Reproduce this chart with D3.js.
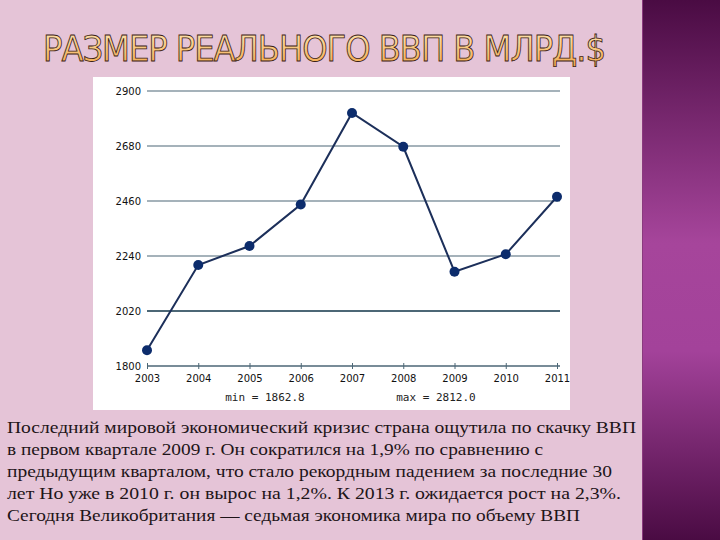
<!DOCTYPE html>
<html>
<head>
<meta charset="utf-8">
<script src="https://cdn.jsdelivr.net/npm/d3@7"></script>
<style>
  body { margin: 0; background: #e5c4d7; }
  svg { display: block; }
</style>
</head>
<body>
<svg id="slide" width="720" height="540"></svg>
<script>
// Data
const years = [2003, 2004, 2005, 2006, 2007, 2008, 2009, 2010, 2011];
const gdp = [1862.8, 2204, 2280, 2446, 2812.0, 2677, 2177, 2247, 2477];
const yTicks = [1800, 2020, 2240, 2460, 2680, 2900];
const titleText = "РАЗМЕР РЕАЛЬНОГО ВВП В МЛРД.$";
const bodyLines = [
    "Последний мировой экономический кризис страна ощутила по скачку ВВП",
    "в первом квартале 2009 г. Он сократился на 1,9% по сравнению с",
    "предыдущим кварталом, что стало рекордным падением за последние 30",
    "лет Но уже в 2010 г. он вырос на 1,2%. К 2013 г. ожидается рост на 2,3%.",
    "Сегодня Великобритания — седьмая экономика мира по объему ВВП"
];
const bodyWidths = [629, 536, 605, 614, 573];

const svg = d3.select("#slide");
const defs = svg.append("defs");

// Purple side panel gradient
const sideGrad = defs.append("linearGradient")
    .attr("id", "sideGrad")
    .attr("x1", 0).attr("y1", 0).attr("x2", 0).attr("y2", 1);
sideGrad.append("stop").attr("offset", "0%").attr("stop-color", "#4a0b43");
sideGrad.append("stop").attr("offset", "45%").attr("stop-color", "#a6459b");
sideGrad.append("stop").attr("offset", "65%").attr("stop-color", "#a3429a");
sideGrad.append("stop").attr("offset", "100%").attr("stop-color", "#4a0b43");

// Title fill gradient (pale top -> orange bottom)
const titleGrad = defs.append("linearGradient")
    .attr("id", "titleGrad")
    .attr("x1", 0).attr("y1", 0).attr("x2", 0).attr("y2", 1);
titleGrad.append("stop").attr("offset", "0%").attr("stop-color", "#ffe9b8");
titleGrad.append("stop").attr("offset", "100%").attr("stop-color", "#f2a445");

svg.append("rect")
    .attr("width", 720).attr("height", 540)
    .attr("fill", "#e5c4d7");

svg.append("rect")
    .attr("x", 642).attr("y", 0)
    .attr("width", 78).attr("height", 540)
    .attr("fill", "url(#sideGrad)");
svg.append("line")
    .attr("x1", 642.5).attr("x2", 642.5).attr("y1", 0).attr("y2", 540)
    .attr("stroke", "#8a3a7e").attr("stroke-width", 1);

// Title
svg.append("text")
    .attr("x", 43).attr("y", 61)
    .attr("textLength", 563)
    .attr("lengthAdjust", "spacing")
    .attr("font-family", "'Liberation Sans Narrow', 'DejaVu Sans Condensed', sans-serif")
    .attr("font-size", "36px")
    .attr("fill", "url(#titleGrad)")
    .attr("stroke", "#3b2216")
    .attr("stroke-width", 0.8)
    .text(titleText);

// Chart box
svg.append("rect")
    .attr("x", 93).attr("y", 77)
    .attr("width", 477).attr("height", 333)
    .attr("fill", "#ffffff");

const x = d3.scaleLinear().domain([2003, 2011]).range([147, 557]);
const y = d3.scaleLinear().domain([1800, 2900]).range([366, 91]);

const chart = svg.append("g");

// Gridlines
chart.append("g").selectAll("line")
    .data(yTicks)
    .enter()
    .append("line")
    .attr("x1", 147).attr("x2", 560)
    .attr("y1", d => y(d)).attr("y2", d => y(d))
    .attr("stroke", "#4c6776")
    .attr("stroke-width", d => d === 2020 ? 2 : 1.2);

// Y labels
chart.append("g").selectAll("text")
    .data(yTicks)
    .enter()
    .append("text")
    .attr("x", 141).attr("y", d => y(d) + 4)
    .attr("text-anchor", "end")
    .attr("font-family", "'DejaVu Sans', sans-serif")
    .attr("font-size", "10px")
    .attr("fill", "#111")
    .text(d => d);

// X axis
const xAxis = d3.axisBottom(x)
    .tickValues(years)
    .tickFormat(d3.format("d"))
    .tickSize(4)
    .tickSizeOuter(0);
const xg = chart.append("g")
    .attr("transform", "translate(0,366)")
    .call(xAxis);
xg.select(".domain").attr("stroke", "#4c6776").attr("stroke-width", 1.2)
    .attr("d", "M147,0H560");
xg.selectAll(".tick line").attr("stroke", "#4c6776").attr("y1", -3).attr("y2", 3);
xg.selectAll(".tick text")
    .attr("y", 9)
    .attr("font-family", "'DejaVu Sans', sans-serif")
    .attr("font-size", "10px")
    .attr("fill", "#111");

// Line + points
const line = d3.line()
    .x((d, i) => x(years[i]))
    .y(d => y(d));
chart.append("path")
    .datum(gdp)
    .attr("d", line)
    .attr("fill", "none")
    .attr("stroke", "#1c2f5a")
    .attr("stroke-width", 2);
chart.append("g").selectAll("circle")
    .data(gdp)
    .enter()
    .append("circle")
    .attr("cx", (d, i) => x(years[i]))
    .attr("cy", d => y(d))
    .attr("r", 5)
    .attr("fill", "#0c2c6c");

// min / max notes
const minV = d3.min(gdp), maxV = d3.max(gdp);
chart.append("text")
    .attr("x", 265).attr("y", 401)
    .attr("text-anchor", "middle")
    .attr("font-family", "'DejaVu Sans Mono', monospace")
    .attr("font-size", "11px")
    .attr("fill", "#222")
    .text("min = " + minV.toFixed(1));
chart.append("text")
    .attr("x", 436).attr("y", 401)
    .attr("text-anchor", "middle")
    .attr("font-family", "'DejaVu Sans Mono', monospace")
    .attr("font-size", "11px")
    .attr("fill", "#222")
    .text("max = " + maxV.toFixed(1));

// Body text
svg.append("g").selectAll("text")
    .data(bodyLines)
    .enter()
    .append("text")
    .attr("x", 7)
    .attr("y", (d, i) => 433 + i * 22)
    .attr("textLength", (d, i) => bodyWidths[i])
    .attr("lengthAdjust", "spacingAndGlyphs")
    .attr("font-family", "'Liberation Serif', 'DejaVu Serif', serif")
    .attr("font-size", "17px")
    .attr("fill", "#1e1418")
    .text(d => d);
</script>
</body>
</html>
